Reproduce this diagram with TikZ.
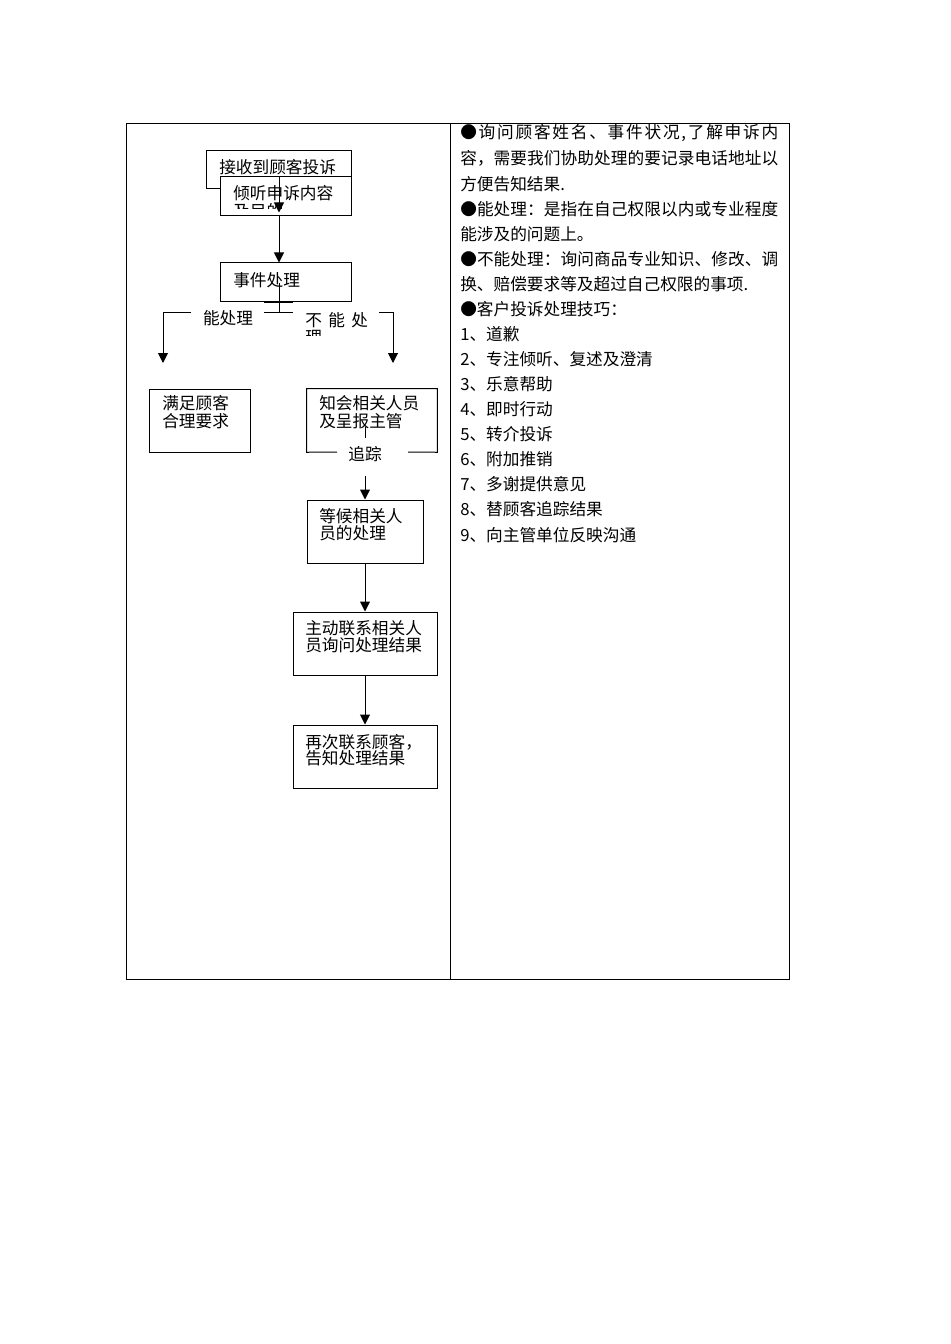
\documentclass[tikz,border=0pt]{standalone}
\usepackage{fontspec}
\newfontfamily\cjk{Noto Sans CJK SC}
\usetikzlibrary{arrows.meta,fit}
\ExplSyntaxOn
\NewDocumentCommand\spreadline{mm}{\hbox to #1{\tl_map_inline:nn{#2}{##1\hfil}\unskip}}
\ExplSyntaxOff
\tikzset{
  frame/.style={draw, line width=0.75pt},
  box/.style={draw, line width=0.75pt, inner sep=0pt},
  arr/.style={-{Triangle[width=7.5pt,length=7.5pt]}, line width=0.75pt},
  ln/.style={line width=0.75pt},
  txt/.style={inner sep=0pt, anchor=west, font=\cjk\fontsize{12.5pt}{15pt}\selectfont},
  ctxt/.style={inner sep=0pt, font=\cjk\fontsize{12.5pt}{15pt}\selectfont},
}
\begin{document}
\begin{tikzpicture}[x=0.75pt,y=-0.75pt]
\useasboundingbox (0,0) rectangle (950,1344);
% outer table
\draw[frame] (126,124) rectangle (789,979);
\draw[frame] (450,124) -- (450,979);

% main axis of the upper flow
\coordinate (ax) at (279,0);

% box 1 and box 2 (overlapping)
\node[box, fit={(206,151)(351,189)}] (b1) {};
\node[txt] (t1) at (219,167) {接收到顾客投诉};
\node[box, fill=white, fit={(220,177)(351,216)}] (b2) {};
\node[txt] (t2) at (233,193) {倾听申诉内容};
\begin{scope}
\clip (221,178) rectangle (350,209);
\node[txt] (t2b) at (233,211) {及目的};
\end{scope}
\draw[arr] (b2.north -| ax) -- ([yshift=3pt]b2.south -| ax);

% box 3
\node[box, fit={(220,263)(351,302)}] (b3) {};
\node[txt] (t3) at (233,280) {事件处理};
\draw[arr] (b2.south -| ax) -- (b3.north -| ax);
\coordinate (j0) at (279,283);
\coordinate (j1) at (279,313);
\draw[ln] (264,303) -- (293,303);
\draw[ln] (j0) -- (j1);
\draw[ln] (264,313) -- (293,313);

% branch labels
\node[ctxt] (lyes) at (228,318) {能处理};
\node[txt] (lno) at (305,320) {\spreadline{47pt}{不能处}};
\begin{scope}
\clip (300,300) rectangle (380,335);
\node[txt] (lno2) at (305,337) {理};
\end{scope}

% left branch
\coordinate (la) at (191,313);
\coordinate (lb) at (163,313);
\coordinate (lc) at (163,363);
\draw[arr] (la) -- (lb) -- (lc);
% right branch
\coordinate (ra) at (379,313);
\coordinate (rb) at (393,313);
\coordinate (rc) at (393,363);
\draw[arr] (ra) -- (rb) -- (rc);

% box 4
\node[box, fit={(149,389)(250,452)}] (b4) {};
\node[txt] at (162,403) {满足顾客};
\node[txt] at (162,421) {合理要求};

% box 5 (with gap at bottom)
\node[inner sep=0pt, fit={(307,389)(437,452)}] (b5) {};
\draw[ln] (337,452) -- (b5.south west) -- (b5.north west) -- (b5.north east) -- (b5.south east) -- (408,452);
\node[txt] at (319,403) {知会相关人员};
\node[txt] at (319,421) {及呈报主管};
\draw[ln] (365,427) -- (365,438);
\node[ctxt] (track) at (365,454) {追踪};

% box 6
\node[box, fit={(307,500)(423,563)}] (b6) {};
\node[txt] at (319,516) {等候相关人};
\node[txt] at (319,533) {员的处理};
\draw[arr] ([yshift=-10.5pt]track.south) -- (b6.north -| track);

% box 7
\node[box, fit={(293,612)(437,675)}] (b7) {};
\node[txt] at (305,628) {主动联系相关人};
\node[txt] at (305,645) {员询问处理结果};
\draw[arr] (b6.south -| b7.north) -- (b7.north);

% box 8
\node[box, fit={(293,725)(437,788)}] (b8) {};
\node[txt] at (305,742) {再次联系顾客，};
\node[txt] at (305,758) {告知处理结果};
\draw[arr] (b7.south) -- (b8.north);

% right column
\node[txt] at (460,133) {\spreadline{238.5pt}{●询问顾客姓名、事件状况,了解申诉内}};
\node[txt] at (460,158) {\spreadline{238.5pt}{容，需要我们协助处理的要记录电话地址以}};
\node[txt] at (460,184) {方便告知结果.};
\node[txt] at (460,209) {\spreadline{238.5pt}{●能处理：是指在自己权限以内或专业程度}};
\node[txt] at (460,234) {能涉及的问题上。};
\node[txt] at (460,259) {\spreadline{238.5pt}{●不能处理：询问商品专业知识、修改、调}};
\node[txt] at (460,284) {换、赔偿要求等及超过自己权限的事项.};
\node[txt] at (460,309) {●客户投诉处理技巧：};
\node[txt] at (460,334) {1、道歉};
\node[txt] at (460,359) {2、专注倾听、复述及澄清};
\node[txt] at (460,384) {3、乐意帮助};
\node[txt] at (460,409) {4、即时行动};
\node[txt] at (460,434) {5、转介投诉};
\node[txt] at (460,459) {6、附加推销};
\node[txt] at (460,484) {7、多谢提供意见};
\node[txt] at (460,509) {8、替顾客追踪结果};
\node[txt] at (460,535) {9、向主管单位反映沟通};
\end{tikzpicture}
\end{document}
